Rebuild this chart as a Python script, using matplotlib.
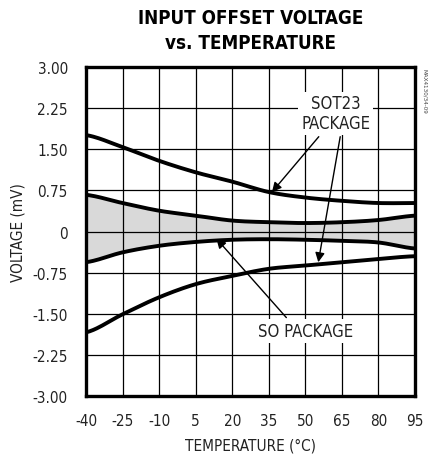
import matplotlib
matplotlib.use("Agg")
import matplotlib.pyplot as plt
from matplotlib import font_manager
import numpy as np

# pick a narrow face if one is installed, the reference uses a condensed sans
fonts = font_manager.fontManager.ttflist
narrow = [f for f in fonts if "Narrow" in f.name or "Condensed" in f.name
          or str(f.stretch) in ("condensed", "semi-condensed", "75", "87.5")]
FAM = narrow[0].name if narrow else "Roboto"
STRETCH = str(narrow[0].stretch) if narrow else "normal"
plt.rcParams["font.family"] = [FAM, "DejaVu Sans"]
plt.rcParams["font.stretch"] = STRETCH
plt.rcParams["axes.unicode_minus"] = False

TEMP = [-40, -25, -10, 5, 20, 35, 50, 65, 80, 95]
SOT23_HI = [1.76, 1.54, 1.29, 1.08, 0.91, 0.72, 0.62, 0.56, 0.52, 0.52]
SO_HI = [0.67, 0.52, 0.38, 0.29, 0.20, 0.17, 0.155, 0.17, 0.21, 0.29]
SO_LO = [-0.56, -0.38, -0.26, -0.19, -0.15, -0.14, -0.15, -0.17, -0.20, -0.31]
SOT23_LO = [-1.84, -1.51, -1.20, -0.96, -0.81, -0.68, -0.62, -0.56, -0.50, -0.45]

XTICKS = [-40, -25, -10, 5, 20, 35, 50, 65, 80, 95]
YTICKS = [-3.0, -2.25, -1.5, -0.75, 0, 0.75, 1.5, 2.25, 3.0]
YLABELS = ["-3.00", "-2.25", "-1.50", "-0.75", "0", "0.75", "1.50", "2.25", "3.00"]


def smooth(x, y):
    # Catmull-Rom through the read points
    x = np.asarray(x, float)
    y = np.asarray(y, float)
    xs, ys = [], []
    for i in range(len(x) - 1):
        p0 = y[max(i - 1, 0)]
        p1, p2 = y[i], y[i + 1]
        p3 = y[min(i + 2, len(y) - 1)]
        t = np.linspace(0, 1, 20, endpoint=False)
        yy = 0.5 * (2 * p1 + (-p0 + p2) * t + (2 * p0 - 5 * p1 + 4 * p2 - p3) * t**2
                    + (-p0 + 3 * p1 - 3 * p2 + p3) * t**3)
        xs.append(x[i] + (x[i + 1] - x[i]) * t)
        ys.append(yy)
    xs.append([x[-1]])
    ys.append([y[-1]])
    return np.concatenate(xs), np.concatenate(ys)


fig = plt.figure(figsize=(4.31, 4.60), dpi=100)
ax = fig.add_axes([0.1995, 0.137, 0.7635, 0.715])

xa, ya = smooth(TEMP, SO_HI)
_, yb = smooth(TEMP, SO_LO)
ax.fill_between(xa, yb, ya, color="#d9d9d9", zorder=1, linewidth=0)
ax.vlines(XTICKS, -3, 3, color="black", lw=0.9, zorder=2)
ax.hlines(YTICKS, -40, 95, color="black", lw=0.9, zorder=2)
for ser in (SOT23_HI, SO_HI, SO_LO, SOT23_LO):
    sx, sy = smooth(TEMP, ser)
    ax.plot(sx, sy, color="black", lw=2.8, zorder=3, solid_capstyle="butt")

ax.set_xlim(-40, 95)
ax.set_ylim(-3, 3)
ax.set_xticks(XTICKS)
ax.set_yticks(YTICKS)
ax.set_yticklabels(YLABELS)
ax.tick_params(length=0, labelsize=11, colors="#222")
ax.tick_params(axis="y", pad=13)
ax.tick_params(axis="x", pad=12)
for s in ax.spines.values():
    s.set_linewidth(2.4)
    s.set_zorder(5)

ax.set_xlabel("TEMPERATURE (°C)", fontsize=11, labelpad=7, color="#222")
ax.set_ylabel("VOLTAGE (mV)", fontsize=11, labelpad=5, color="#222")
fig.text(0.582, 0.96, "INPUT OFFSET VOLTAGE", ha="center", va="center",
         fontsize=13.5, fontweight="heavy")
fig.text(0.582, 0.906, "vs. TEMPERATURE", ha="center", va="center",
         fontsize=13.5, fontweight="heavy")
fig.text(0.985, 0.85, "MAX4130/34-09", rotation=270, ha="center", va="top",
         fontsize=4.5, color="#444")

box = dict(facecolor="white", edgecolor="none", pad=2)
ax.text(62.5, 2.16, "SOT23\nPACKAGE", ha="center", va="center", fontsize=12,
        linespacing=1.1, bbox=box, zorder=6, color="#222")
ax.text(50, -1.82, "SO PACKAGE", ha="center", va="center", fontsize=12,
        bbox=box, zorder=6, color="#222")

arr = dict(arrowstyle="-|>", color="black", lw=1.0, mutation_scale=14, shrinkA=0, shrinkB=0)
ax.annotate("", xy=(36.3, 0.72), xytext=(55.5, 1.73), arrowprops=arr, zorder=7)
ax.annotate("", xy=(55.3, -0.56), xytext=(64.3, 1.73), arrowprops=arr, zorder=7)
ax.annotate("", xy=(13.5, -0.13), xytext=(42.2, -1.57), arrowprops=arr, zorder=7)

fig.savefig("out.png", dpi=100)
